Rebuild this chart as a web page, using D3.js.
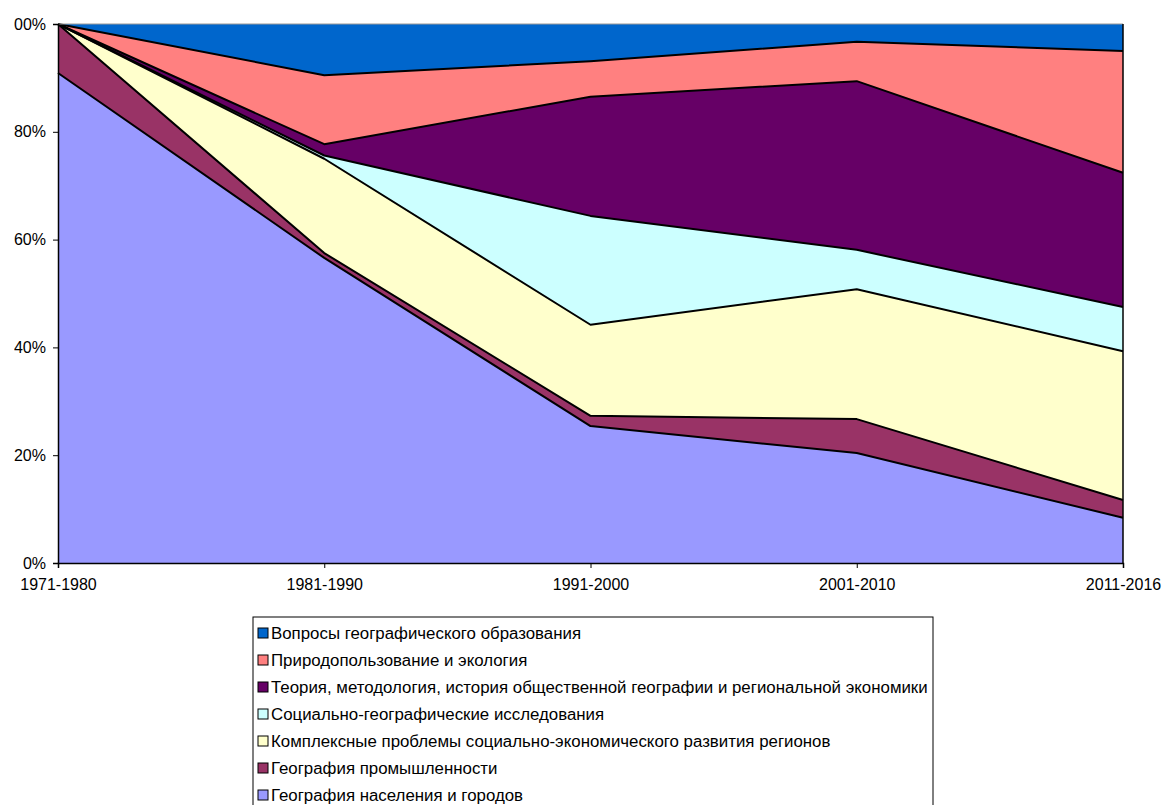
<!DOCTYPE html>
<html>
<head>
<meta charset="utf-8">
<script src="https://d3js.org/d3.v7.min.js"></script>
<style>
body { margin: 0; background: #fff; font-family: Arial, 'Liberation Sans', sans-serif; }
svg { display: block; }
</style>
</head>
<body>
<svg id="chart" width="1165" height="805"></svg>
<script>
// periods on the x axis
var periods = ["1971-1980", "1981-1990", "1991-2000", "2001-2010", "2011-2016"];

// shares, % (bottom series first)
var naselenie   = [90.9, 56.6, 25.4, 20.4, 8.4];
var promyshl    = [9.1, 0.9, 1.9, 6.3, 3.3];
var kompleks    = [0, 17.5, 16.9, 24.1, 27.6];
var socialGeo   = [0, 0.6, 20.2, 7.3, 8.2];
var teoria      = [0, 2.1, 22.1, 31.3, 24.9];
var prirodopolz = [0, 12.8, 6.6, 7.3, 22.6];
var obrazovanie = [0, 9.5, 6.9, 3.3, 5.0];

var seriesNames = [
  "География населения и городов",
  "География промышленности",
  "Комплексные проблемы социально-экономического развития регионов",
  "Социально-географические исследования",
  "Теория, методология, история общественной географии и региональной экономики",
  "Природопользование и экология",
  "Вопросы географического образования"
];
var seriesColors = ["#9999FF", "#993366", "#FFFFCC", "#CCFFFF", "#660066", "#FF8080", "#0066CC"];
var seriesValues = [naselenie, promyshl, kompleks, socialGeo, teoria, prirodopolz, obrazovanie];

var yTicks = [0, 0.2, 0.4, 0.6, 0.8, 1];

var svg = d3.select("#chart");

// the original picture is cut at the left edge, so the "1" of 100% is hidden.
// rect is in tick-local coords (tick group sits at x=58)
svg.append("defs").append("clipPath").attr("id", "leftcut")
  .append("rect").attr("x", 14 - 58).attr("y", -50).attr("width", 100).attr("height", 100);

var x = d3.scalePoint().domain(periods).range([58, 1123]);
var y = d3.scaleLinear().domain([0, 1]).range([563, 24]);

// build rows for d3.stack
var rows = periods.map(function (p, i) {
  var r = { period: p };
  seriesNames.forEach(function (n, k) { r[n] = seriesValues[k][i]; });
  return r;
});

var stack = d3.stack()
  .keys(seriesNames)
  .offset(d3.stackOffsetExpand);
var layers = stack(rows);

var area = d3.area()
  .x(function (d) { return x(d.data.period); })
  .y0(function (d) { return y(d[0]); })
  .y1(function (d) { return y(d[1]); });

var topLine = d3.line()
  .x(function (d) { return x(d.data.period); })
  .y(function (d) { return y(d[1]); });

var g = svg.append("g");

g.selectAll("path.area")
  .data(layers)
  .enter().append("path")
  .attr("class", "area")
  .attr("fill", function (d, i) { return seriesColors[i]; })
  .attr("stroke", "none")
  .attr("d", area);

g.selectAll("path.edge")
  .data(layers.slice(0, layers.length - 1))
  .enter().append("path")
  .attr("class", "edge")
  .attr("fill", "none")
  .attr("stroke", "#000")
  .attr("stroke-width", 2)
  .attr("stroke-linejoin", "round")
  .attr("d", topLine);

// plot frame: gray top, black right
g.append("line").attr("x1", 58).attr("x2", 1123).attr("y1", 24).attr("y2", 24)
  .attr("stroke", "#999").attr("stroke-width", 1);
g.append("line").attr("x1", 1123).attr("x2", 1123).attr("y1", 24).attr("y2", 563)
  .attr("stroke", "#000").attr("stroke-width", 1.5);

// axes
var yAxis = d3.axisLeft(y)
  .tickValues(yTicks)
  .tickFormat(d3.format(".0%"))
  .tickSize(5)
  .tickPadding(7);
var ya = svg.append("g").attr("transform", "translate(58,0)").call(yAxis);

var xAxis = d3.axisBottom(x).tickSize(5).tickPadding(11);
var xa = svg.append("g").attr("transform", "translate(0,563)").call(xAxis);

[ya, xa].forEach(function (a) {
  a.select(".domain").attr("stroke", "#000").attr("stroke-width", 1.5);
  a.selectAll(".tick line").attr("stroke", "#000");
  a.selectAll(".tick text")
    .attr("fill", "#000")
    .style("font-family", "Arial, 'Liberation Sans', sans-serif")
    .style("font-size", "16px");
});
ya.selectAll(".tick text").attr("clip-path", "url(#leftcut)");

// legend
var legend = svg.append("g").attr("transform", "translate(253,617)");
legend.append("rect")
  .attr("x", 0).attr("y", 0)
  .attr("width", 680).attr("height", 200)
  .attr("fill", "#fff").attr("stroke", "#000").attr("stroke-width", 1);

var order = seriesNames.map(function (n, i) { return i; }).reverse();
var items = legend.selectAll("g.item")
  .data(order)
  .enter().append("g")
  .attr("class", "item")
  .attr("transform", function (d, j) { return "translate(5," + (16 + j * 27) + ")"; });

items.append("rect")
  .attr("x", 0).attr("y", -5)
  .attr("width", 10).attr("height", 10)
  .attr("fill", function (d) { return seriesColors[d]; })
  .attr("stroke", "#000").attr("stroke-width", 1);

items.append("text")
  .attr("x", 13).attr("y", 0)
  .attr("dy", "0.35em")
  .style("font-family", "Arial, 'Liberation Sans', sans-serif")
  .style("font-size", "16.85px")
  .attr("fill", "#000")
  .text(function (d) { return seriesNames[d]; });
</script>
</body>
</html>
